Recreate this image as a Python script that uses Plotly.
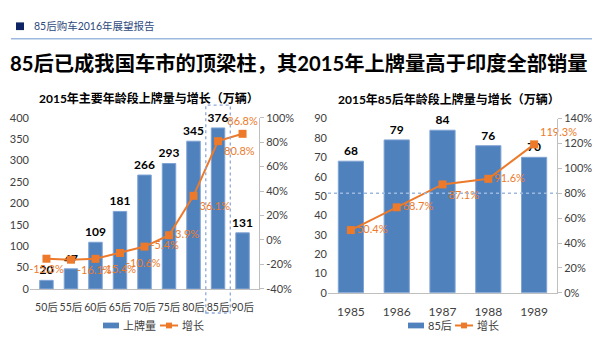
import plotly.graph_objects as go

# 左图：主要年龄段
age_groups = ["50后", "55后", "60后", "65后", "70后", "75后", "80后", "85后", "90后"]
age_plates = [20, 47, 109, 181, 266, 293, 345, 376, 131]
age_growth = [-15.3, -16.1, -15.4, -10.6, -5.4, 3.9, 36.1, 80.8, 86.8]

# 右图：85后各出生年份
birth_years = ["1985", "1986", "1987", "1988", "1989"]
year_plates = [68, 79, 84, 76, 70]
year_growth = [50.4, 68.7, 87.1, 91.6, 119.3]

W, H = 600, 344
BLUE = "#4F81BD"
ORANGE = "#EC7A2A"
AXIS = "#BFBFBF"
TICK = "#404040"
FONT = "Lato, Noto Sans CJK SC, sans-serif"


def px(x):
    return x / W


def py(y):
    return 1 - y / H


def pct(v):
    return f"{v:.1f}%"


fig = go.Figure()

fig.add_trace(go.Bar(
    x=age_groups, y=age_plates, xaxis="x", yaxis="y",
    width=0.55, marker=dict(color=BLUE, line=dict(color="#7FA3D4", width=1)),
    text=[f"<b>{v}</b>" for v in age_plates], textposition="outside",
    textfont=dict(family=FONT, size=12, color="#000000"),
    constraintext="none", cliponaxis=False, name="上牌量",
))
fig.add_trace(go.Scatter(
    x=age_groups, y=age_growth, xaxis="x", yaxis="y2",
    mode="lines+markers+text",
    line=dict(color=ORANGE, width=2),
    marker=dict(symbol="square", size=8, color=ORANGE),
    text=[pct(v) for v in age_growth],
    textposition=["bottom center", "bottom right", "bottom right", "bottom right",
                  "middle right", "middle right", "bottom right", "bottom right",
                  "top center"],
    textfont=dict(family=FONT, size=11, color=ORANGE),
    cliponaxis=False, name="增长",
))

fig.add_trace(go.Bar(
    x=birth_years, y=year_plates, xaxis="x2", yaxis="y3",
    width=0.55, marker=dict(color=BLUE, line=dict(color="#7FA3D4", width=1)),
    text=[f"<b>{v}</b>" for v in year_plates], textposition="outside",
    textfont=dict(family=FONT, size=12, color="#000000"),
    constraintext="none", cliponaxis=False, name="85后",
))
fig.add_trace(go.Scatter(
    x=birth_years, y=year_growth, xaxis="x2", yaxis="y4",
    mode="lines+markers+text",
    line=dict(color=ORANGE, width=2),
    marker=dict(symbol="square", size=8, color=ORANGE),
    text=[pct(v) for v in year_growth],
    textposition=["middle right", "middle right", "bottom right", "middle right", "top right"],
    textfont=dict(family=FONT, size=11, color=ORANGE),
    cliponaxis=False, name="增长",
))

left_pct_ticks = list(range(-40, 101, 20))
right_pct_ticks = list(range(0, 141, 20))

fig.update_layout(
    width=W, height=H,
    margin=dict(l=0, r=0, t=0, b=0),
    paper_bgcolor="white", plot_bgcolor="rgba(0,0,0,0)",
    showlegend=False,
    font=dict(family=FONT, color=TICK),
    xaxis=dict(domain=[px(30), px(259)], anchor="y", showline=True, linecolor=AXIS,
               linewidth=1, ticks="", showgrid=False, tickangle=0, ticklabelstandoff=8,
               tickfont=dict(family=FONT, size=10.5, color=TICK)),
    yaxis=dict(domain=[py(293), py(115)], anchor="x", range=[0, 400], dtick=50,
               showgrid=False, zeroline=False, showline=False, ticks="",
               tickfont=dict(family=FONT, size=11, color=TICK)),
    yaxis2=dict(domain=[py(293), py(115)], anchor="x", overlaying="y", side="right",
                range=[-40, 100], tickvals=left_pct_ticks,
                ticktext=[f"{v}%" for v in left_pct_ticks],
                showgrid=False, zeroline=False, showline=True, linecolor=AXIS,
                ticks="outside", ticklen=4, tickcolor=AXIS,
                tickfont=dict(family=FONT, size=11, color=TICK)),
    xaxis2=dict(domain=[px(328), px(557)], anchor="y3", showline=True, linecolor=AXIS,
                linewidth=1, ticks="", showgrid=False, tickangle=0, ticklabelstandoff=8,
                tickfont=dict(family=FONT, size=12, color=TICK)),
    yaxis3=dict(domain=[py(297), py(116)], anchor="x2", range=[0, 90], dtick=10,
                showgrid=False, zeroline=False, showline=False, ticks="",
                tickfont=dict(family=FONT, size=11, color=TICK)),
    yaxis4=dict(domain=[py(297), py(116)], anchor="x2", overlaying="y3", side="right",
                range=[0, 140], tickvals=right_pct_ticks,
                ticktext=[f"{v}%" for v in right_pct_ticks],
                showgrid=False, zeroline=False, showline=True, linecolor=AXIS,
                ticks="outside", ticklen=4, tickcolor=AXIS,
                tickfont=dict(family=FONT, size=11, color=TICK)),
)

shapes = [
    # 页眉方块与分隔线
    dict(type="rect", xref="paper", yref="paper", x0=px(16), x1=px(24), y0=py(24), y1=py(16),
         fillcolor="#0E2465", line=dict(width=0)),
    dict(type="line", xref="paper", yref="paper", x0=px(11), x1=px(592), y0=py(33), y1=py(33),
         line=dict(color="#9DB9DF", width=1.5)),
    # 85后 高亮框
    dict(type="rect", xref="x", yref="paper", x0=6.5, x1=7.5, y0=py(318), y1=py(102),
         line=dict(color="#8EA9DB", width=1.3, dash="dot")),
    # 右图 80% 参考线
    dict(type="line", xref="x2 domain", yref="y4", x0=0, x1=1, y0=80, y1=80,
         line=dict(color="#9DB9DF", width=1.5, dash="dot")),
]

annotations = [
    dict(text="85后购车2016年展望报告", x=px(32), y=py(20), xanchor="left", yanchor="middle",
         font=dict(family=FONT, size=10.5, color="#2E4A7D")),
    dict(text="<b>85后已成我国车市的顶梁柱，其2015年上牌量高于印度全部销量</b>",
         x=px(299), y=py(58), xanchor="center", yanchor="middle",
         font=dict(family=FONT, size=20.3, color="#000000")),
    dict(text="<b>2015年主要年龄段上牌量与增长（万辆）</b>", x=px(149), y=py(95),
         xanchor="center", yanchor="middle", font=dict(family=FONT, size=12, color="#000000")),
    dict(text="<b>2015年85后年龄段上牌量与增长（万辆）</b>", x=px(449), y=py(96),
         xanchor="center", yanchor="middle", font=dict(family=FONT, size=12, color="#000000")),
]


def legend(x_rect, bar_label, x_line, line_label, y=331):
    shapes.append(dict(type="rect", xref="paper", yref="paper",
                       x0=px(x_rect), x1=px(x_rect + 16), y0=py(y + 3), y1=py(y - 3),
                       fillcolor=BLUE, line=dict(width=0)))
    shapes.append(dict(type="line", xref="paper", yref="paper",
                       x0=px(x_line), x1=px(x_line + 18), y0=py(y), y1=py(y),
                       line=dict(color=ORANGE, width=2)))
    shapes.append(dict(type="rect", xref="paper", yref="paper",
                       x0=px(x_line + 6), x1=px(x_line + 12), y0=py(y + 3), y1=py(y - 3),
                       fillcolor=ORANGE, line=dict(width=0)))
    annotations.append(dict(text=bar_label, x=px(x_rect + 18), y=py(y), xanchor="left",
                            yanchor="middle", font=dict(family=FONT, size=11, color=TICK)))
    annotations.append(dict(text=line_label, x=px(x_line + 20), y=py(y), xanchor="left",
                            yanchor="middle", font=dict(family=FONT, size=11, color=TICK)))


legend(103, "上牌量", 160, "增长")
legend(408, "85后", 455, "增长")

for a in annotations:
    a["showarrow"] = False
    a["xref"] = "paper"
    a["yref"] = "paper"
fig.update_layout(shapes=shapes, annotations=annotations)

fig.write_html("out.html")
